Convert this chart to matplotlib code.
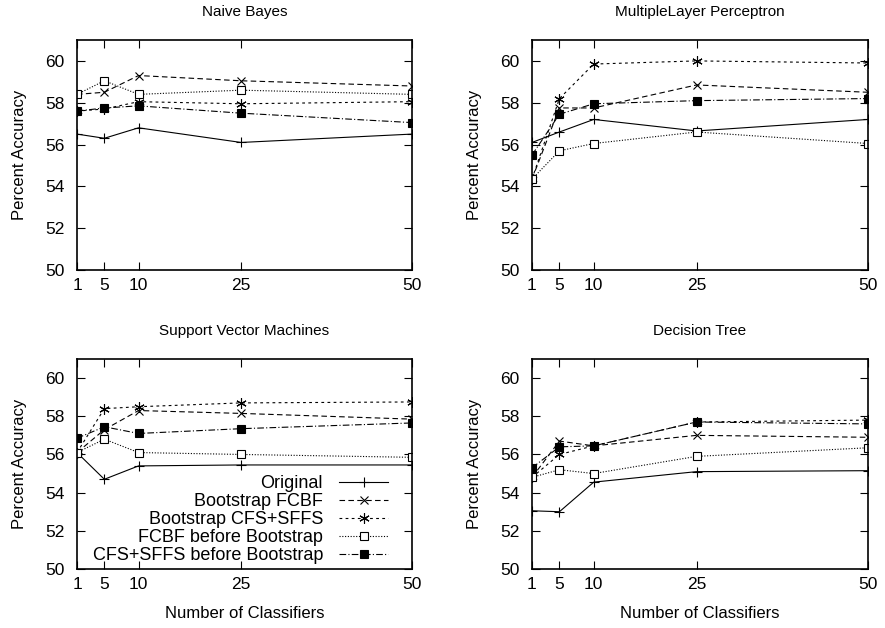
import matplotlib
matplotlib.use("Agg")
import matplotlib.pyplot as plt

plt.rcParams['font.family'] = ['Liberation Sans', 'DejaVu Sans']
plt.rcParams['font.size'] = 12

# number of classifiers
n_clf = [1, 5, 10, 25, 50]

series_names = ["Original", "Bootstrap FCBF", "Bootstrap CFS+SFFS",
                "FCBF before Bootstrap", "CFS+SFFS before Bootstrap"]

# Naive Bayes
nb_orig = [56.5, 56.3, 56.8, 56.1, 56.5]
nb_fcbf = [58.4, 58.5, 59.3, 59.05, 58.8]
nb_cfs = [57.6, 57.7, 58.05, 57.95, 58.05]
nb_fcbf_before = [58.4, 59.05, 58.4, 58.6, 58.4]
nb_cfs_before = [57.6, 57.75, 57.85, 57.5, 57.05]

# MultipleLayer Perceptron
mlp_orig = [56.1, 56.6, 57.2, 56.65, 57.2]
mlp_fcbf = [54.35, 57.75, 57.75, 58.85, 58.5]
mlp_cfs = [54.35, 58.2, 59.85, 60.0, 59.9]
mlp_fcbf_before = [54.35, 55.7, 56.05, 56.6, 56.05]
mlp_cfs_before = [55.5, 57.45, 57.95, 58.1, 58.2]

# Support Vector Machines
svm_orig = [56.1, 54.7, 55.4, 55.45, 55.45]
svm_fcbf = [56.1, 57.3, 58.3, 58.15, 57.85]
svm_cfs = [56.1, 58.4, 58.5, 58.7, 58.75]
svm_fcbf_before = [56.1, 56.8, 56.1, 56.0, 55.85]
svm_cfs_before = [56.85, 57.45, 57.1, 57.35, 57.65]

# Decision Tree
dt_orig = [53.05, 53.0, 54.55, 55.1, 55.15]
dt_fcbf = [54.8, 56.7, 56.45, 57.0, 56.9]
dt_cfs = [54.8, 56.0, 56.45, 57.7, 57.8]
dt_fcbf_before = [54.8, 55.2, 55.0, 55.9, 56.35]
dt_cfs_before = [55.3, 56.4, 56.45, 57.7, 57.6]

panels = [
    ("Naive Bayes", [nb_orig, nb_fcbf, nb_cfs, nb_fcbf_before, nb_cfs_before]),
    ("MultipleLayer Perceptron", [mlp_orig, mlp_fcbf, mlp_cfs, mlp_fcbf_before, mlp_cfs_before]),
    ("Support Vector Machines", [svm_orig, svm_fcbf, svm_cfs, svm_fcbf_before, svm_cfs_before]),
    ("Decision Tree", [dt_orig, dt_fcbf, dt_cfs, dt_fcbf_before, dt_cfs_before]),
]

# gnuplot-like line/marker styles
styles = [
    dict(linestyle='-', marker='+', markersize=7, mfc='none'),
    dict(linestyle=(0, (5, 3)), marker='x', markersize=6, mfc='none'),
    dict(linestyle=(0, (2.5, 3)), marker=(6, 2, 0), markersize=7.5, mfc='none'),
    dict(linestyle=(0, (1, 1.5)), marker='s', markersize=5.5, mfc='white'),
    dict(linestyle=(0, (6, 2, 1, 2)), marker='s', markersize=5.5, mfc='black'),
]

fig = plt.figure(figsize=(8.85, 6.28), dpi=100)
W, H = 885.0, 628.0
# axes boxes in pixel coords: (left, top, right, bottom)
boxes = [(77, 40, 412, 270), (532, 40, 868, 270),
         (77, 359, 412, 569), (532, 359, 868, 569)]

for i, ((title, data), (l, t, r, b)) in enumerate(zip(panels, boxes)):
    ax = fig.add_axes([l / W, 1 - b / H, (r - l) / W, (b - t) / H])
    for name, y, st in zip(series_names, data, styles):
        ax.plot(n_clf, y, color='black', linewidth=0.8, mec='black',
                mew=0.8, label=name, **st)
    ax.set_xlim(1, 50)
    ax.set_ylim(50, 61)
    ax.set_xticks(n_clf)
    ax.set_yticks([50, 52, 54, 56, 58, 60])
    ax.tick_params(direction='in', length=6, width=0.8, top=True, right=True,
                   labelsize=12.5)
    ax.tick_params(axis='y', pad=9)
    ax.tick_params(axis='x', pad=6)
    for sp in ax.spines.values():
        sp.set_linewidth(1.2)
    ax.set_title(title, fontsize=11, pad=17)
    ax.set_ylabel("Percent Accuracy", fontsize=12, labelpad=13)
    if i >= 2:
        ax.set_xlabel("Number of Classifiers", fontsize=12, labelpad=10)
    if i == 2:
        ax.legend(loc='lower right', frameon=False, markerfirst=False,
                  handlelength=2.7, handletextpad=0.9, labelspacing=0.05,
                  borderaxespad=0.0, bbox_to_anchor=(0.95, -0.01),
                  fontsize=13)

fig.savefig("out.png", dpi=100)
